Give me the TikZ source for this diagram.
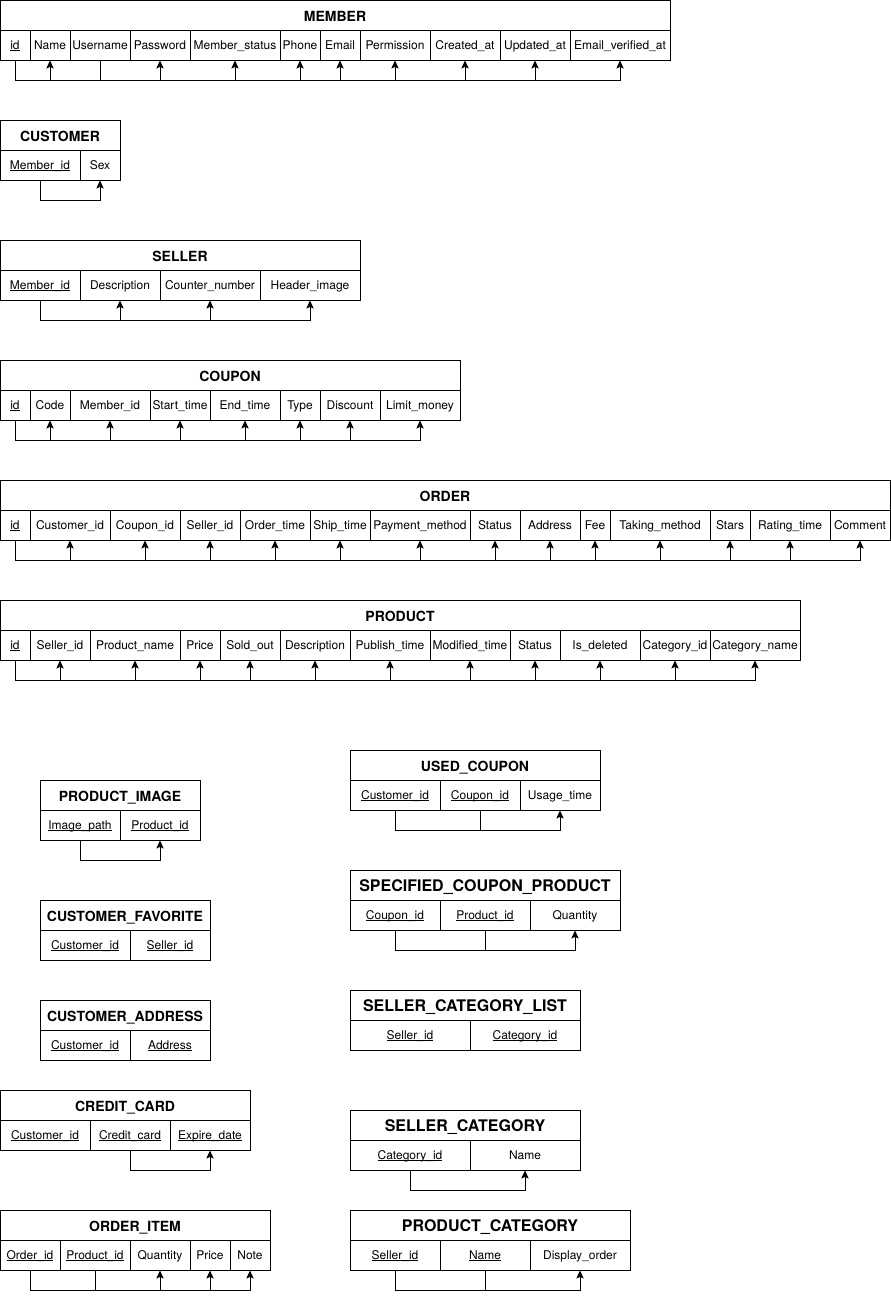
\documentclass[tikz,border=0pt]{standalone}
\usepackage{fontspec}
\setmainfont{TeX Gyre Heros}
\usetikzlibrary{arrows.meta}
\newcommand\uln[1]{\setbox0\hbox{#1}\rlap{\rule[-1.3pt]{\wd0}{0.55pt}}\box0}
\newcommand\ercell[6][cell]{\node[#1, minimum width={(#4-#3)*0.75pt}] (#2) at ({(#3+#4)/2},{#5+15}) {#6};}
\newcommand\fkto[2]{\draw[fk] (#1.south) -- ++(0,20) -| (#2.south);}
\newcommand\stubto[2]{\draw[lnk] (#1.south) -- ++(0,20) -| (#2.south);}
\begin{document}
\begin{tikzpicture}[x=0.75pt,y=-0.75pt,
  cell/.style={draw, line width=0.75pt, minimum height=22.5pt, inner sep=0pt,
    text height=7.2pt, text depth=0.5pt, font=\fontsize{9}{10}\selectfont},
  ttl/.style={cell, text height=9.1pt, text depth=0pt, font=\fontsize{10.5}{12}\selectfont\bfseries},
  bigttl/.style={cell, text height=10.1pt, text depth=0pt, font=\fontsize{12}{14}\selectfont\bfseries},
  fk/.style={draw, line width=0.75pt, -{Stealth[length=6pt,width=5.5pt,inset=1.2pt]}},
  lnk/.style={draw, line width=0.75pt}]
\useasboundingbox (0,0) rectangle (891,1299);
% MEMBER
\ercell[ttl]{m}{0}{670}{0}{MEMBER}
\ercell{m1}{0}{30}{30}{\uln{id}}
\ercell{m2}{30}{70}{30}{Name}
\ercell{m3}{70}{130}{30}{Username}
\ercell{m4}{130}{190}{30}{Password}
\ercell{m5}{190}{280}{30}{Member\_status}
\ercell{m6}{280}{320}{30}{Phone}
\ercell{m7}{320}{360}{30}{Email}
\ercell{m8}{360}{430}{30}{Permission}
\ercell{m9}{430}{500}{30}{Created\_at}
\ercell{m10}{500}{570}{30}{Updated\_at}
\ercell{m11}{570}{670}{30}{Email\_verified\_at}
\stubto{m3}{m1}
\foreach \t in {m2,m4,m5,m6,m7,m8,m9,m10,m11}{\fkto{m1}{\t}}
% CUSTOMER
\ercell[ttl]{cu}{0}{120}{120}{CUSTOMER}
\ercell{cu1}{0}{80}{150}{\uln{Member\_id}}
\ercell{cu2}{80}{120}{150}{Sex}
\fkto{cu1}{cu2}
% SELLER
\ercell[ttl]{se}{0}{360}{240}{SELLER}
\ercell{se1}{0}{80}{270}{\uln{Member\_id}}
\ercell{se2}{80}{160}{270}{Description}
\ercell{se3}{160}{260}{270}{Counter\_number}
\ercell{se4}{260}{360}{270}{Header\_image}
\foreach \t in {se2,se3,se4}{\fkto{se1}{\t}}
% COUPON
\ercell[ttl]{co}{0}{460}{360}{COUPON}
\ercell{co1}{0}{30}{390}{\uln{id}}
\ercell{co2}{30}{70}{390}{Code}
\ercell{co3}{70}{150}{390}{Member\_id}
\ercell{co4}{150}{210}{390}{Start\_time}
\ercell{co5}{210}{280}{390}{End\_time}
\ercell{co6}{280}{320}{390}{Type}
\ercell{co7}{320}{380}{390}{Discount}
\ercell{co8}{380}{460}{390}{Limit\_money}
\foreach \t in {co2,co3,co4,co5,co6,co7,co8}{\fkto{co1}{\t}}
% ORDER
\ercell[ttl]{o}{0}{890}{480}{ORDER}
\ercell{o1}{0}{30}{510}{\uln{id}}
\ercell{o2}{30}{110}{510}{Customer\_id}
\ercell{o3}{110}{180}{510}{Coupon\_id}
\ercell{o4}{180}{240}{510}{Seller\_id}
\ercell{o5}{240}{310}{510}{Order\_time}
\ercell{o6}{310}{370}{510}{Ship\_time}
\ercell{o7}{370}{470}{510}{Payment\_method}
\ercell{o8}{470}{520}{510}{Status}
\ercell{o9}{520}{580}{510}{Address}
\ercell{o10}{580}{610}{510}{Fee}
\ercell{o11}{610}{710}{510}{Taking\_method}
\ercell{o12}{710}{750}{510}{Stars}
\ercell{o13}{750}{830}{510}{Rating\_time}
\ercell{o14}{830}{890}{510}{Comment}
\foreach \t in {o2,o3,o4,o5,o6,o7,o8,o9,o10,o11,o12,o13,o14}{\fkto{o1}{\t}}
% PRODUCT
\ercell[ttl]{p}{0}{800}{600}{PRODUCT}
\ercell{p1}{0}{30}{630}{\uln{id}}
\ercell{p2}{30}{90}{630}{Seller\_id}
\ercell{p3}{90}{180}{630}{Product\_name}
\ercell{p4}{180}{220}{630}{Price}
\ercell{p5}{220}{280}{630}{Sold\_out}
\ercell{p6}{280}{350}{630}{Description}
\ercell{p7}{350}{430}{630}{Publish\_time}
\ercell{p8}{430}{510}{630}{Modified\_time}
\ercell{p9}{510}{560}{630}{Status}
\ercell{p10}{560}{640}{630}{Is\_deleted}
\ercell{p11}{640}{710}{630}{Category\_id}
\ercell{p12}{710}{800}{630}{Category\_name}
\foreach \t in {p2,p3,p4,p5,p6,p7,p8,p9,p10,p11,p12}{\fkto{p1}{\t}}
% PRODUCT_IMAGE
\ercell[ttl]{pi}{40}{200}{780}{PRODUCT\_IMAGE}
\ercell{pi1}{40}{120}{810}{\uln{Image\_path}}
\ercell{pi2}{120}{200}{810}{\uln{Product\_id}}
\fkto{pi1}{pi2}
% CUSTOMER_FAVORITE
\ercell[ttl]{cf}{40}{210}{900}{CUSTOMER\_FAVORITE}
\ercell{cf1}{40}{130}{930}{\uln{Customer\_id}}
\ercell{cf2}{130}{210}{930}{\uln{Seller\_id}}
% CUSTOMER_ADDRESS
\ercell[ttl]{ca}{40}{210}{1000}{CUSTOMER\_ADDRESS}
\ercell{ca1}{40}{130}{1030}{\uln{Customer\_id}}
\ercell{ca2}{130}{210}{1030}{\uln{Address}}
% CREDIT_CARD
\ercell[ttl]{cc}{0}{250}{1090}{CREDIT\_CARD}
\ercell{cc1}{0}{90}{1120}{\uln{Customer\_id}}
\ercell{cc2}{90}{170}{1120}{\uln{Credit\_card}}
\ercell{cc3}{170}{250}{1120}{\uln{Expire\_date}}
\fkto{cc2}{cc3}
% ORDER_ITEM
\ercell[ttl]{oi}{0}{270}{1210}{ORDER\_ITEM}
\ercell{oi1}{0}{60}{1240}{\uln{Order\_id}}
\ercell{oi2}{60}{130}{1240}{\uln{Product\_id}}
\ercell{oi3}{130}{190}{1240}{Quantity}
\ercell{oi4}{190}{230}{1240}{Price}
\ercell{oi5}{230}{270}{1240}{Note}
\stubto{oi2}{oi1}
\foreach \t in {oi3,oi4,oi5}{\fkto{oi1}{\t}}
% USED_COUPON
\ercell[ttl]{uc}{350}{600}{750}{USED\_COUPON}
\ercell{uc1}{350}{440}{780}{\uln{Customer\_id}}
\ercell{uc2}{440}{520}{780}{\uln{Coupon\_id}}
\ercell{uc3}{520}{600}{780}{Usage\_time}
\stubto{uc2}{uc1}
\fkto{uc1}{uc3}
% SPECIFIED_COUPON_PRODUCT
\ercell[bigttl]{scp}{350}{620}{870}{SPECIFIED\_COUPON\_PRODUCT}
\ercell{scp1}{350}{440}{900}{\uln{Coupon\_id}}
\ercell{scp2}{440}{530}{900}{\uln{Product\_id}}
\ercell{scp3}{530}{620}{900}{Quantity}
\stubto{scp2}{scp1}
\fkto{scp1}{scp3}
% SELLER_CATEGORY_LIST
\ercell[bigttl]{scl}{350}{580}{990}{SELLER\_CATEGORY\_LIST}
\ercell{scl1}{350}{470}{1020}{\uln{Seller\_id}}
\ercell{scl2}{470}{580}{1020}{\uln{Category\_id}}
% SELLER_CATEGORY
\ercell[bigttl]{sc}{350}{580}{1110}{SELLER\_CATEGORY}
\ercell{sc1}{350}{470}{1140}{\uln{Category\_id}}
\ercell{sc2}{470}{580}{1140}{Name}
\fkto{sc1}{sc2}
% PRODUCT_CATEGORY
\ercell[bigttl]{pc}{350}{630}{1210}{PRODUCT\_CATEGORY}
\ercell{pc1}{350}{440}{1240}{\uln{Seller\_id}}
\ercell{pc2}{440}{530}{1240}{\uln{Name}}
\ercell{pc3}{530}{630}{1240}{Display\_order}
\stubto{pc2}{pc1}
\fkto{pc1}{pc3}
\end{tikzpicture}
\end{document}
